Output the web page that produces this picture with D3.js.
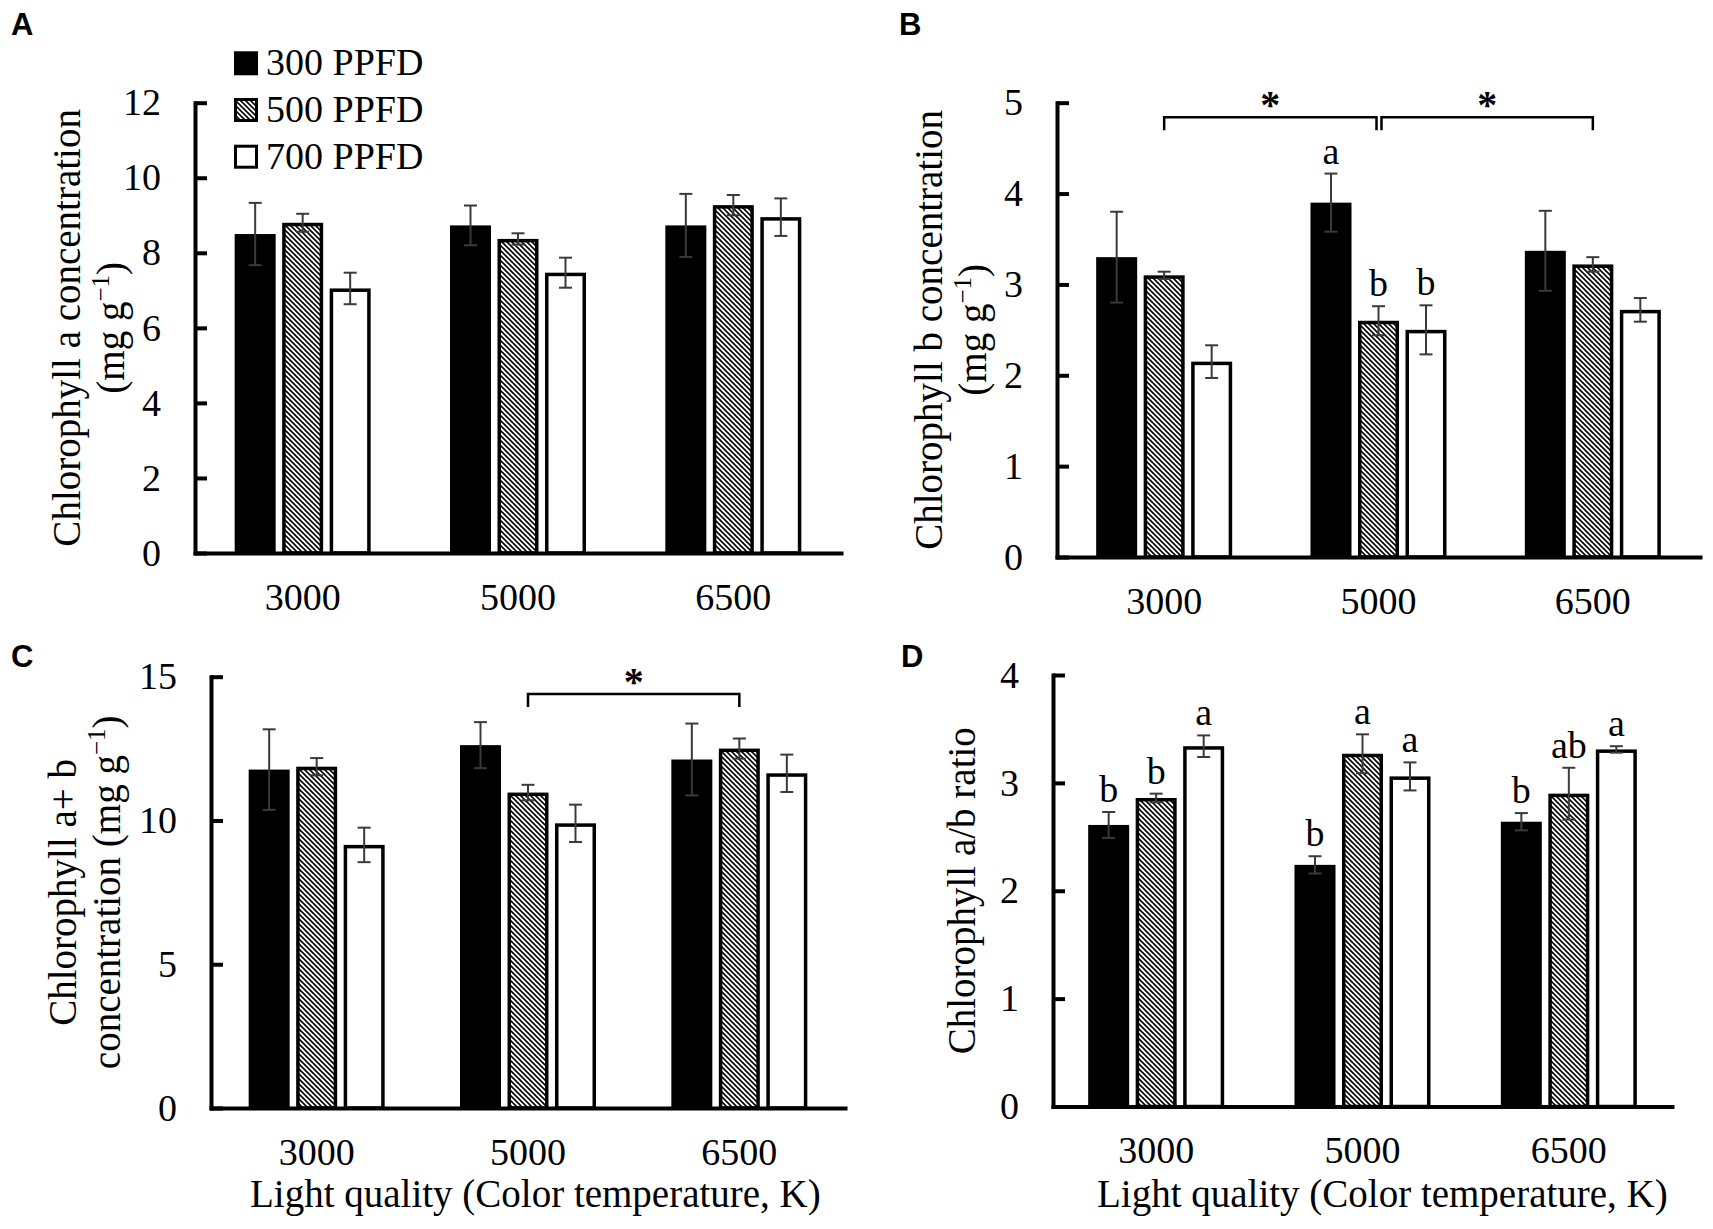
<!DOCTYPE html>
<html>
<head>
<meta charset="utf-8">
<script src="https://cdn.jsdelivr.net/npm/d3@7/dist/d3.min.js"></script>
<style>
  html, body { margin: 0; padding: 0; background: #fff; }
  svg { display: block; }
</style>
</head>
<body>
<svg id="chart" width="1713" height="1229"></svg>
<script>
// ---------------- DATA ----------------
const categories = ["3000", "5000", "6500"];
const series = ["300 PPFD", "500 PPFD", "700 PPFD"];

// values indexed [category][series]
const chlA      = [[8.50, 8.80, 7.05], [8.73, 8.37, 7.47], [8.73, 9.27, 8.95]];
const chlAErr   = [[0.83, 0.24, 0.42], [0.53, 0.15, 0.40], [0.84, 0.27, 0.50]];
const chlB      = [[3.30, 3.10, 2.15], [3.90, 2.60, 2.50], [3.37, 3.22, 2.72]];
const chlBErr   = [[0.50, 0.04, 0.18], [0.32, 0.16, 0.27], [0.44, 0.08, 0.13]];
const chlAB     = [[11.77, 11.87, 9.15], [12.62, 10.97, 9.90], [12.12, 12.50, 11.64]];
const chlABErr  = [[1.40, 0.30, 0.60], [0.80, 0.27, 0.65], [1.25, 0.35, 0.65]];
const ratioAB   = [[2.61, 2.86, 3.34], [2.24, 3.27, 3.06], [2.64, 2.90, 3.31]];
const ratioErr  = [[0.12, 0.04, 0.10], [0.08, 0.18, 0.13], [0.08, 0.24, 0.03]];

const lettersA = [["", "", ""], ["", "", ""], ["", "", ""]];
const lettersB = [["", "", ""], ["a", "b", "b"], ["", "", ""]];
const lettersC = [["", "", ""], ["", "", ""], ["", "", ""]];
const lettersD = [["b", "b", "a"], ["b", "a", "a"], ["b", "ab", "a"]];

const ticksA = [0, 2, 4, 6, 8, 10, 12];
const ticksB = [0, 1, 2, 3, 4, 5];
const ticksC = [0, 5, 10, 15];
const ticksD = [0, 1, 2, 3, 4];

const bracketsA = [];
const bracketsB = [{ from: "3000", to: "5000", level: 4.84, mark: "*" },
                   { from: "5000", to: "6500", level: 4.84, mark: "*" }];
const bracketsC = [{ from: "5000", to: "6500", level: 14.4, mark: "*" }];
const bracketsD = [];

const yTitleA = ["Chlorophyll a concentration", "(mg g|−1|)"];
const yTitleB = ["Chlorophyll b concentration", "(mg g|−1|)"];
const yTitleC = ["Chlorophyll a+ b", "concentration (mg g|−1|)"];
const yTitleD = ["Chlorophyll a/b ratio"];
const xTitle = "Light quality (Color temperature, K)";

// ---------------- LAYOUT ----------------
const SERIF = "'Liberation Serif', 'Times New Roman', Times, serif";
const SANS = "'Liberation Sans Narrow', 'Liberation Sans', Arial, Helvetica, sans-serif";
const FS = 38;

const panels = [
  { id: "A", vals: chlA, errs: chlAErr, letters: lettersA, ticks: ticksA, max: 12, brackets: bracketsA,
    left: 195, right: 841, top: 102.7, bottom: 553, title: yTitleA, titleX: [80, 124],
    tag: [11, 35], legend: true, xTitle: false },
  { id: "B", vals: chlB, errs: chlBErr, letters: lettersB, ticks: ticksB, max: 5, brackets: bracketsB,
    left: 1057, right: 1700, top: 102.7, bottom: 557, title: yTitleB, titleX: [942, 986],
    tag: [899, 35], legend: false, xTitle: false },
  { id: "C", vals: chlAB, errs: chlABErr, letters: lettersC, ticks: ticksC, max: 15, brackets: bracketsC,
    left: 211, right: 845, top: 676.7, bottom: 1108, title: yTitleC, titleX: [76, 120],
    tag: [11, 667], legend: false, xTitle: true, xTitleX: 250 },
  { id: "D", vals: ratioAB, errs: ratioErr, letters: lettersD, ticks: ticksD, max: 4, brackets: bracketsD,
    left: 1053, right: 1672, top: 675, bottom: 1106.5, title: yTitleD, titleX: [975],
    tag: [901, 667], legend: false, xTitle: true, xTitleX: 1097 }
];

const svg = d3.select("#chart");
svg.append("rect").attr("width", 1713).attr("height", 1229).attr("fill", "#fff");

// hatch pattern
const defs = svg.append("defs");
const pat = defs.append("pattern").attr("id", "hatch").attr("patternUnits", "userSpaceOnUse")
  .attr("width", 5).attr("height", 5);
pat.append("rect").attr("width", 5).attr("height", 5).attr("fill", "#fff");
pat.append("path").attr("d", "M-1,-1 L6,6 M-1,4 L1,6 M4,-1 L6,1")
  .attr("stroke", "#000").attr("stroke-width", 1.6);

const fills = ["#000", "url(#hatch)", "#fff"];
const BAR_STROKE = 3.5;
const BAR_W = 41, BAR_STEP = 47.5;

function addTitleText(sel, str, fs) {
  // parts separated by '|' : normal | superscript | normal
  const parts = str.split("|");
  sel.append("tspan").text(parts[0]);
  if (parts.length > 1) {
    sel.append("tspan").attr("font-size", fs * 0.64).attr("dy", -15).text(parts[1]);
    sel.append("tspan").attr("dy", 15).text(parts[2]);
  }
}

panels.forEach(p => {
  const g = svg.append("g");
  const y = d3.scaleLinear().domain([0, p.max]).range([p.bottom, p.top]);
  const step = (p.right - p.left) / categories.length;
  const groupW = BAR_STEP * (series.length) - (BAR_STEP - BAR_W);
  const pi = 1 - groupW / step;
  const x0 = d3.scaleBand().domain(categories).range([p.left, p.right])
    .paddingInner(pi).paddingOuter(pi / 2);
  const x1 = d3.scaleBand().domain(series).range([0, x0.bandwidth()])
    .paddingInner((BAR_STEP - BAR_W) / BAR_STEP).paddingOuter(0);

  // bars
  categories.forEach((c, i) => {
    series.forEach((s, j) => {
      const v = p.vals[i][j];
      const bx = x0(c) + x1(s);
      const bw = x1.bandwidth();
      if (j === 0) {
        g.append("rect").attr("x", bx).attr("y", y(v)).attr("width", bw)
          .attr("height", y(0) - y(v)).attr("fill", "#000");
      } else {
        const h = BAR_STROKE / 2;
        g.append("rect").attr("x", bx + h).attr("y", y(v) + h).attr("width", bw - 2 * h)
          .attr("height", y(0) - y(v) - h).attr("fill", fills[j])
          .attr("stroke", "#000").attr("stroke-width", BAR_STROKE);
      }
    });
  });

  // error bars
  categories.forEach((c, i) => {
    series.forEach((s, j) => {
      const v = p.vals[i][j], e = p.errs[i][j];
      const cx = x0(c) + x1(s) + x1.bandwidth() / 2;
      const eg = g.append("g").attr("stroke", "#3a3a3a").attr("stroke-width", 2);
      eg.append("line").attr("x1", cx).attr("x2", cx).attr("y1", y(v + e)).attr("y2", y(v - e));
      eg.append("line").attr("x1", cx - 6.5).attr("x2", cx + 6.5).attr("y1", y(v + e)).attr("y2", y(v + e));
      eg.append("line").attr("x1", cx - 6.5).attr("x2", cx + 6.5).attr("y1", y(v - e)).attr("y2", y(v - e));
      const L = p.letters[i][j];
      if (L) {
        g.append("text").attr("x", cx).attr("y", y(v + e) - 10)
          .attr("text-anchor", "middle").attr("font-family", SERIF).attr("font-size", FS)
          .attr("fill", "#000").text(L);
      }
    });
  });

  // y axis
  const ya = g.append("g").attr("transform", `translate(${p.left},0)`)
    .call(d3.axisLeft(y).tickValues(p.ticks).tickSizeInner(-12).tickSizeOuter(0)
      .tickPadding(34).tickFormat(d3.format("d")));
  ya.select(".domain").attr("stroke", "#000").attr("stroke-width", 4).attr("stroke-linecap", "square");
  ya.selectAll(".tick line").attr("stroke", "#000").attr("stroke-width", 4);
  ya.selectAll(".tick text").attr("font-family", SERIF).attr("font-size", FS).attr("fill", "#000");

  // x axis
  const xa = g.append("g").attr("transform", `translate(0,${p.bottom})`)
    .call(d3.axisBottom(x0).tickSize(0).tickPadding(30).tickSizeOuter(0));
  xa.select(".domain").attr("stroke", "#000").attr("stroke-width", 4).attr("stroke-linecap", "square");
  xa.selectAll(".tick text").attr("font-family", SERIF).attr("font-size", FS).attr("fill", "#000");

  // brackets
  p.brackets.forEach((b, k) => {
    const xa1 = x0(b.from) + x0.bandwidth() / 2 + (k > 0 ? 3 : 0);
    const xa2 = x0(b.to) + x0.bandwidth() / 2 - (k === 0 && p.brackets.length > 1 ? 2 : 0);
    const by = y(b.level);
    g.append("path").attr("d", `M${xa1},${by + 13}V${by}H${xa2}V${by + 13}`)
      .attr("fill", "none").attr("stroke", "#000").attr("stroke-width", 2.5);
    g.append("text").attr("x", (xa1 + xa2) / 2).attr("y", by + 1)
      .attr("text-anchor", "middle").attr("font-family", SERIF).attr("font-weight", "bold")
      .attr("font-size", 40).attr("fill", "#000").text(b.mark);
  });

  // y title
  const cy = (p.top + p.bottom) / 2;
  p.title.forEach((line, li) => {
    const tx = p.titleX[li];
    const t = g.append("text").attr("transform", `translate(${tx},${cy}) rotate(-90)`)
      .attr("text-anchor", "middle").attr("font-family", SERIF).attr("font-size", 39).attr("fill", "#000");
    addTitleText(t, line, 39);
  });

  // x title
  if (p.xTitle) {
    g.append("text").attr("x", p.xTitleX).attr("y", 1207).attr("font-family", SERIF)
      .attr("font-size", 39).attr("fill", "#000").text(xTitle);
  }

  // panel tag
  g.append("text").attr("x", p.tag[0]).attr("y", p.tag[1]).attr("font-family", SANS)
    .attr("font-weight", "bold").attr("font-size", 31).attr("fill", "#000").text(p.id);

  // legend
  if (p.legend) {
    const lg = g.append("g");
    series.forEach((s, j) => {
      const cyL = 63.3 + j * 46.7;
      if (j === 0) {
        lg.append("rect").attr("x", 234).attr("y", cyL - 12).attr("width", 24).attr("height", 24).attr("fill", "#000");
      } else {
        lg.append("rect").attr("x", 235.5).attr("y", cyL - 10.5).attr("width", 21).attr("height", 21)
          .attr("fill", fills[j]).attr("stroke", "#000").attr("stroke-width", 3);
      }
      lg.append("text").attr("x", 266).attr("y", cyL + 12).attr("font-family", SERIF)
        .attr("font-size", FS).attr("fill", "#000").text(s);
    });
  }
});
</script>
</body>
</html>
